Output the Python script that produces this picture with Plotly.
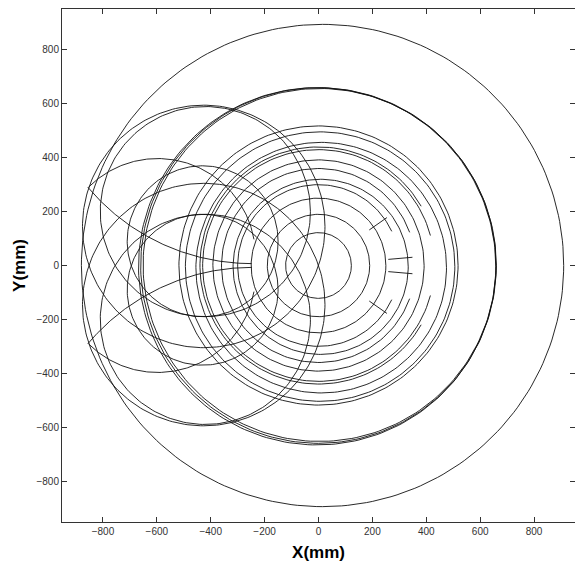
import numpy as np
import plotly.graph_objects as go

# Full circles: centre x, centre y, radius (mm)
circle_cx = [15, 0, 4, -5, 0, 6, 10, 0, 8, 0, 0, 0,
             -426, -426, -420, -420, -430, -430]
circle_cy = [0, 0, 2, -3, 0, -4, -8, 0, -5, 0, 0, 0,
             145, -145, 200, -200, 90, -90]
circle_r = [895, 660, 655, 663, 518, 500, 465, 392, 325, 250, 190, 122,
            450, 450, 390, 390, 280, 280]

# Partial arcs: centre x, centre y, radius, start angle, end angle (deg)
arc_cx = [0, 0, 0, 0, -597, -597, -248, -248]
arc_cy = [0, 0, 0, 0, 34, -34, 801, -801]
arc_r = [300, 360, 430, 440, 363, 363, 794, 794]
arc_a0 = [25, 20, 15, 30, 10, -135, 220, 90]
arc_a1 = [335, 340, 345, 330, 135, -10, 270, 140]

# Short radial strokes: angle (deg), inner radius, outer radius
seg_ang = [35, 5, -5, -35]
seg_r0 = [230, 260, 260, 230]
seg_r1 = [310, 350, 350, 310]

x_ticks = [-800, -600, -400, -200, 0, 200, 400, 600, 800]
y_ticks = [-800, -600, -400, -200, 0, 200, 400, 600, 800]

fig = go.Figure()
line = dict(color="#111111", width=0.9)

t = np.linspace(0, 2 * np.pi, 241)
for cx, cy, r in zip(circle_cx, circle_cy, circle_r):
    fig.add_trace(go.Scatter(x=cx + r * np.cos(t), y=cy + r * np.sin(t),
                             mode="lines", line=line, hoverinfo="skip"))

for cx, cy, r, a0, a1 in zip(arc_cx, arc_cy, arc_r, arc_a0, arc_a1):
    ta = np.radians(np.linspace(a0, a1, 160))
    fig.add_trace(go.Scatter(x=cx + r * np.cos(ta), y=cy + r * np.sin(ta),
                             mode="lines", line=line, hoverinfo="skip"))

for a, r0, r1 in zip(seg_ang, seg_r0, seg_r1):
    ar = np.radians(a)
    fig.add_trace(go.Scatter(x=[r0 * np.cos(ar), r1 * np.cos(ar)],
                             y=[r0 * np.sin(ar), r1 * np.sin(ar)],
                             mode="lines", line=line, hoverinfo="skip"))

axis_common = dict(
    showline=True, linecolor="#333333", linewidth=1, mirror="ticks",
    ticks="inside", ticklen=5, tickcolor="#333333", showgrid=False,
    zeroline=False, automargin=False,
    tickfont=dict(family="Arial, Liberation Sans", size=10, color="#333333"),
)

fig.update_layout(
    width=575, height=566,
    margin=dict(l=54, r=8, t=1, b=52),
    paper_bgcolor="white", plot_bgcolor="white",
    showlegend=False,
    xaxis=dict(range=[-952, 952], tickvals=x_ticks,
               title=dict(text="<b>X(mm)</b>", font=dict(family="Arial, Liberation Sans", size=17, color="black"), standoff=10),
               **axis_common),
    yaxis=dict(range=[-952, 952], tickvals=y_ticks,
               title=dict(text="<b>Y(mm)</b>", font=dict(family="Arial, Liberation Sans", size=17, color="black"), standoff=6),
               **axis_common),
)

fig.write_html("out.html")
